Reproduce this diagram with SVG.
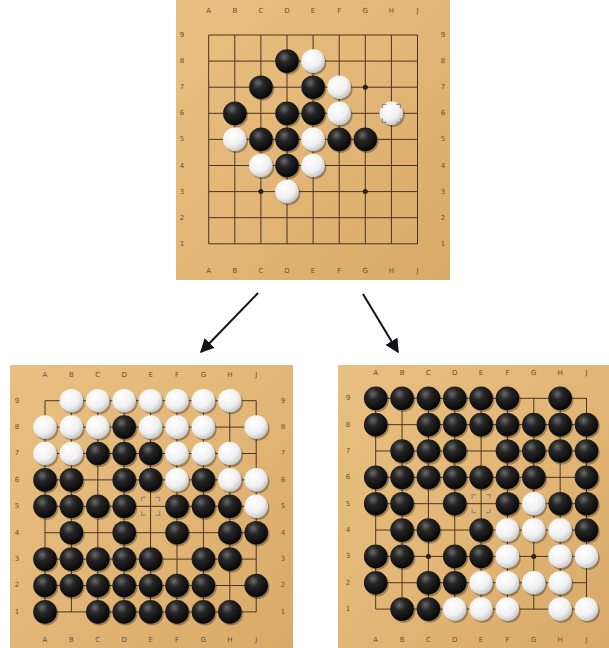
<svg xmlns="http://www.w3.org/2000/svg" xmlns:xlink="http://www.w3.org/1999/xlink" width="609" height="648" viewBox="0 0 609 648">
<defs>
<style>
.bd{fill:url(#wood)}
.grid{fill:none;stroke:#4a3420;stroke-width:1}
.lbl{font-family:"DejaVu Sans","Liberation Sans",sans-serif;font-size:7px;fill:#6a4e2c;text-anchor:middle;dominant-baseline:central}
.star{fill:#2a1e12}
.mk{fill:none;stroke:#8a8a8a;stroke-width:1.2}
.conn{stroke:#111118;stroke-width:2;fill:none}
</style>
<linearGradient id="wood" x1="0" y1="0" x2="1" y2="1">
<stop offset="0" stop-color="#e8c081"/>
<stop offset="0.5" stop-color="#e2b676"/>
<stop offset="1" stop-color="#d9aa6a"/>
</linearGradient>
<radialGradient id="gb" cx="0.38" cy="0.32" r="0.7">
<stop offset="0" stop-color="#6a6a6a"/>
<stop offset="0.35" stop-color="#262626"/>
<stop offset="1" stop-color="#050505"/>
</radialGradient>
<radialGradient id="gw" cx="0.38" cy="0.32" r="0.75">
<stop offset="0" stop-color="#ffffff"/>
<stop offset="0.6" stop-color="#f0f0f0"/>
<stop offset="1" stop-color="#bdbdbd"/>
</radialGradient>
<g id="b"><circle cx="1.5" cy="1.8" r="11.8" fill="#000" opacity=".3"/><circle r="11.8" fill="url(#gb)"/></g>
<g id="w"><circle cx="1.5" cy="1.8" r="11.8" fill="#000" opacity=".3"/><circle r="11.8" fill="url(#gw)"/></g>
<path id="m" class="mk" d="M-9,-5V-9H-5M5,-9H9V-5M9,5V9H5M-5,9H-9V5"/>
<marker id="ah" viewBox="0 0 10 10" refX="9" refY="5" markerWidth="7" markerHeight="7" orient="auto" markerUnits="strokeWidth">
<path d="M0,0L10,5L0,10z" fill="#111118"/>
</marker>
</defs>

<g id="connectors">
<line class="conn" x1="258" y1="293" x2="201" y2="352" marker-end="url(#ah)"/>
<line class="conn" x1="363" y1="294" x2="398" y2="352" marker-end="url(#ah)"/>
</g>

<g id="board-top">
<rect class="bd" x="176" y="0" width="274" height="280"/>
<g transform="translate(208.7,35)">
<path class="grid" d="M0,0V208.8M26.1,0V208.8M52.2,0V208.8M78.3,0V208.8M104.4,0V208.8M130.5,0V208.8M156.6,0V208.8M182.7,0V208.8M208.8,0V208.8M0,0H208.8M0,26.1H208.8M0,52.2H208.8M0,78.3H208.8M0,104.4H208.8M0,130.5H208.8M0,156.6H208.8M0,182.7H208.8M0,208.8H208.8"/>
<g class="star"><circle cx="52.2" cy="52.2" r="2.5"/><circle cx="156.6" cy="52.2" r="2.5"/><circle cx="104.4" cy="104.4" r="2.5"/><circle cx="52.2" cy="156.6" r="2.5"/><circle cx="156.6" cy="156.6" r="2.5"/></g>
<g class="lbl">
<text x="0" y="-24">A</text><text x="26.1" y="-24">B</text><text x="52.2" y="-24">C</text><text x="78.3" y="-24">D</text><text x="104.4" y="-24">E</text><text x="130.5" y="-24">F</text><text x="156.6" y="-24">G</text><text x="182.7" y="-24">H</text><text x="208.8" y="-24">J</text>
<text x="0" y="236">A</text><text x="26.1" y="236">B</text><text x="52.2" y="236">C</text><text x="78.3" y="236">D</text><text x="104.4" y="236">E</text><text x="130.5" y="236">F</text><text x="156.6" y="236">G</text><text x="182.7" y="236">H</text><text x="208.8" y="236">J</text>
<text x="-26.7" y="0">9</text><text x="-26.7" y="26.1">8</text><text x="-26.7" y="52.2">7</text><text x="-26.7" y="78.3">6</text><text x="-26.7" y="104.4">5</text><text x="-26.7" y="130.5">4</text><text x="-26.7" y="156.6">3</text><text x="-26.7" y="182.7">2</text><text x="-26.7" y="208.8">1</text>
<text x="234.3" y="0">9</text><text x="234.3" y="26.1">8</text><text x="234.3" y="52.2">7</text><text x="234.3" y="78.3">6</text><text x="234.3" y="104.4">5</text><text x="234.3" y="130.5">4</text><text x="234.3" y="156.6">3</text><text x="234.3" y="182.7">2</text><text x="234.3" y="208.8">1</text>
</g>
<use href="#b" x="78.3" y="26.1"/><use href="#w" x="104.4" y="26.1"/>
<use href="#b" x="52.2" y="52.2"/><use href="#b" x="104.4" y="52.2"/><use href="#w" x="130.5" y="52.2"/>
<use href="#b" x="26.1" y="78.3"/><use href="#b" x="78.3" y="78.3"/><use href="#b" x="104.4" y="78.3"/><use href="#w" x="130.5" y="78.3"/><use href="#w" x="182.7" y="78.3"/><use href="#m" x="182.7" y="78.3"/>
<use href="#w" x="26.1" y="104.4"/><use href="#b" x="52.2" y="104.4"/><use href="#b" x="78.3" y="104.4"/><use href="#w" x="104.4" y="104.4"/><use href="#b" x="130.5" y="104.4"/><use href="#b" x="156.6" y="104.4"/>
<use href="#w" x="52.2" y="130.5"/><use href="#b" x="78.3" y="130.5"/><use href="#w" x="104.4" y="130.5"/>
<use href="#w" x="78.3" y="156.6"/>
</g>
</g>

<g id="board-left">
<rect class="bd" x="10" y="365" width="283" height="283"/>
<g transform="translate(45,400.7)">
<path class="grid" d="M0,0V211.2M26.4,0V211.2M52.8,0V211.2M79.2,0V211.2M105.6,0V211.2M132,0V211.2M158.4,0V211.2M184.8,0V211.2M211.2,0V211.2M0,0H211.2M0,26.4H211.2M0,52.8H211.2M0,79.2H211.2M0,105.6H211.2M0,132H211.2M0,158.4H211.2M0,184.8H211.2M0,211.2H211.2"/>
<g class="star"><circle cx="52.8" cy="52.8" r="2.5"/><circle cx="158.4" cy="52.8" r="2.5"/><circle cx="52.8" cy="158.4" r="2.5"/><circle cx="158.4" cy="158.4" r="2.5"/></g>
<g class="lbl">
<text x="0" y="-26">A</text><text x="26.4" y="-26">B</text><text x="52.8" y="-26">C</text><text x="79.2" y="-26">D</text><text x="105.6" y="-26">E</text><text x="132" y="-26">F</text><text x="158.4" y="-26">G</text><text x="184.8" y="-26">H</text><text x="211.2" y="-26">J</text>
<text x="0" y="239">A</text><text x="26.4" y="239">B</text><text x="52.8" y="239">C</text><text x="79.2" y="239">D</text><text x="105.6" y="239">E</text><text x="132" y="239">F</text><text x="158.4" y="239">G</text><text x="184.8" y="239">H</text><text x="211.2" y="239">J</text>
<text x="-28" y="0">9</text><text x="-28" y="26.4">8</text><text x="-28" y="52.8">7</text><text x="-28" y="79.2">6</text><text x="-28" y="105.6">5</text><text x="-28" y="132">4</text><text x="-28" y="158.4">3</text><text x="-28" y="184.8">2</text><text x="-28" y="211.2">1</text>
<text x="238" y="0">9</text><text x="238" y="26.4">8</text><text x="238" y="52.8">7</text><text x="238" y="79.2">6</text><text x="238" y="105.6">5</text><text x="238" y="132">4</text><text x="238" y="158.4">3</text><text x="238" y="184.8">2</text><text x="238" y="211.2">1</text>
</g>
<use href="#w" x="26.4" y="0"/><use href="#w" x="52.8" y="0"/><use href="#w" x="79.2" y="0"/><use href="#w" x="105.6" y="0"/><use href="#w" x="132" y="0"/><use href="#w" x="158.4" y="0"/><use href="#w" x="184.8" y="0"/>
<use href="#w" x="0" y="26.4"/><use href="#w" x="26.4" y="26.4"/><use href="#w" x="52.8" y="26.4"/><use href="#b" x="79.2" y="26.4"/><use href="#w" x="105.6" y="26.4"/><use href="#w" x="132" y="26.4"/><use href="#w" x="158.4" y="26.4"/><use href="#w" x="211.2" y="26.4"/>
<use href="#w" x="0" y="52.8"/><use href="#w" x="26.4" y="52.8"/><use href="#b" x="52.8" y="52.8"/><use href="#b" x="79.2" y="52.8"/><use href="#b" x="105.6" y="52.8"/><use href="#w" x="132" y="52.8"/><use href="#w" x="158.4" y="52.8"/><use href="#w" x="184.8" y="52.8"/>
<use href="#b" x="0" y="79.2"/><use href="#b" x="26.4" y="79.2"/><use href="#b" x="79.2" y="79.2"/><use href="#b" x="105.6" y="79.2"/><use href="#w" x="132" y="79.2"/><use href="#b" x="158.4" y="79.2"/><use href="#w" x="184.8" y="79.2"/><use href="#w" x="211.2" y="79.2"/>
<use href="#b" x="0" y="105.6"/><use href="#b" x="26.4" y="105.6"/><use href="#b" x="52.8" y="105.6"/><use href="#b" x="79.2" y="105.6"/><use href="#m" x="105.6" y="105.6"/><use href="#b" x="132" y="105.6"/><use href="#b" x="158.4" y="105.6"/><use href="#b" x="184.8" y="105.6"/><use href="#w" x="211.2" y="105.6"/>
<use href="#b" x="26.4" y="132"/><use href="#b" x="79.2" y="132"/><use href="#b" x="132" y="132"/><use href="#b" x="184.8" y="132"/><use href="#b" x="211.2" y="132"/>
<use href="#b" x="0" y="158.4"/><use href="#b" x="26.4" y="158.4"/><use href="#b" x="52.8" y="158.4"/><use href="#b" x="79.2" y="158.4"/><use href="#b" x="105.6" y="158.4"/><use href="#b" x="158.4" y="158.4"/><use href="#b" x="184.8" y="158.4"/>
<use href="#b" x="0" y="184.8"/><use href="#b" x="26.4" y="184.8"/><use href="#b" x="52.8" y="184.8"/><use href="#b" x="79.2" y="184.8"/><use href="#b" x="105.6" y="184.8"/><use href="#b" x="132" y="184.8"/><use href="#b" x="158.4" y="184.8"/><use href="#b" x="211.2" y="184.8"/>
<use href="#b" x="0" y="211.2"/><use href="#b" x="52.8" y="211.2"/><use href="#b" x="79.2" y="211.2"/><use href="#b" x="105.6" y="211.2"/><use href="#b" x="132" y="211.2"/><use href="#b" x="158.4" y="211.2"/><use href="#b" x="184.8" y="211.2"/>
</g>
</g>

<g id="board-right">
<rect class="bd" x="338" y="365" width="271" height="283"/>
<g transform="translate(375.7,398.3)">
<path class="grid" d="M0,0V210.8M26.35,0V210.8M52.7,0V210.8M79.05,0V210.8M105.4,0V210.8M131.75,0V210.8M158.1,0V210.8M184.45,0V210.8M210.8,0V210.8M0,0H210.8M0,26.35H210.8M0,52.7H210.8M0,79.05H210.8M0,105.4H210.8M0,131.75H210.8M0,158.1H210.8M0,184.45H210.8M0,210.8H210.8"/>
<g class="star"><circle cx="52.7" cy="52.7" r="2.5"/><circle cx="158.1" cy="52.7" r="2.5"/><circle cx="52.7" cy="158.1" r="2.5"/><circle cx="158.1" cy="158.1" r="2.5"/></g>
<g class="lbl">
<text x="0" y="-25">A</text><text x="26.35" y="-25">B</text><text x="52.7" y="-25">C</text><text x="79.05" y="-25">D</text><text x="105.4" y="-25">E</text><text x="131.75" y="-25">F</text><text x="158.1" y="-25">G</text><text x="184.45" y="-25">H</text><text x="210.8" y="-25">J</text>
<text x="0" y="241.7">A</text><text x="26.35" y="241.7">B</text><text x="52.7" y="241.7">C</text><text x="79.05" y="241.7">D</text><text x="105.4" y="241.7">E</text><text x="131.75" y="241.7">F</text><text x="158.1" y="241.7">G</text><text x="184.45" y="241.7">H</text><text x="210.8" y="241.7">J</text>
<text x="-27.7" y="0">9</text><text x="-27.7" y="26.35">8</text><text x="-27.7" y="52.7">7</text><text x="-27.7" y="79.05">6</text><text x="-27.7" y="105.4">5</text><text x="-27.7" y="131.75">4</text><text x="-27.7" y="158.1">3</text><text x="-27.7" y="184.45">2</text><text x="-27.7" y="210.8">1</text>
</g>
<use href="#b" x="0" y="0"/><use href="#b" x="26.35" y="0"/><use href="#b" x="52.7" y="0"/><use href="#b" x="79.05" y="0"/><use href="#b" x="105.4" y="0"/><use href="#b" x="131.75" y="0"/><use href="#b" x="184.45" y="0"/>
<use href="#b" x="0" y="26.35"/><use href="#b" x="52.7" y="26.35"/><use href="#b" x="79.05" y="26.35"/><use href="#b" x="105.4" y="26.35"/><use href="#b" x="131.75" y="26.35"/><use href="#b" x="158.1" y="26.35"/><use href="#b" x="184.45" y="26.35"/><use href="#b" x="210.8" y="26.35"/>
<use href="#b" x="26.35" y="52.7"/><use href="#b" x="52.7" y="52.7"/><use href="#b" x="79.05" y="52.7"/><use href="#b" x="131.75" y="52.7"/><use href="#b" x="158.1" y="52.7"/><use href="#b" x="184.45" y="52.7"/><use href="#b" x="210.8" y="52.7"/>
<use href="#b" x="0" y="79.05"/><use href="#b" x="26.35" y="79.05"/><use href="#b" x="52.7" y="79.05"/><use href="#b" x="79.05" y="79.05"/><use href="#b" x="105.4" y="79.05"/><use href="#b" x="131.75" y="79.05"/><use href="#b" x="158.1" y="79.05"/><use href="#b" x="210.8" y="79.05"/>
<use href="#b" x="0" y="105.4"/><use href="#b" x="26.35" y="105.4"/><use href="#b" x="79.05" y="105.4"/><use href="#m" x="105.4" y="105.4"/><use href="#b" x="131.75" y="105.4"/><use href="#w" x="158.1" y="105.4"/><use href="#b" x="184.45" y="105.4"/><use href="#b" x="210.8" y="105.4"/>
<use href="#b" x="26.35" y="131.75"/><use href="#b" x="52.7" y="131.75"/><use href="#b" x="105.4" y="131.75"/><use href="#w" x="131.75" y="131.75"/><use href="#w" x="158.1" y="131.75"/><use href="#w" x="184.45" y="131.75"/><use href="#b" x="210.8" y="131.75"/>
<use href="#b" x="0" y="158.1"/><use href="#b" x="26.35" y="158.1"/><use href="#b" x="79.05" y="158.1"/><use href="#b" x="105.4" y="158.1"/><use href="#w" x="131.75" y="158.1"/><use href="#w" x="184.45" y="158.1"/><use href="#w" x="210.8" y="158.1"/>
<use href="#b" x="0" y="184.45"/><use href="#b" x="52.7" y="184.45"/><use href="#b" x="79.05" y="184.45"/><use href="#w" x="105.4" y="184.45"/><use href="#w" x="131.75" y="184.45"/><use href="#w" x="158.1" y="184.45"/><use href="#w" x="184.45" y="184.45"/>
<use href="#b" x="26.35" y="210.8"/><use href="#b" x="52.7" y="210.8"/><use href="#w" x="79.05" y="210.8"/><use href="#w" x="105.4" y="210.8"/><use href="#w" x="131.75" y="210.8"/><use href="#w" x="184.45" y="210.8"/><use href="#w" x="210.8" y="210.8"/>
</g>
</g>
</svg>
